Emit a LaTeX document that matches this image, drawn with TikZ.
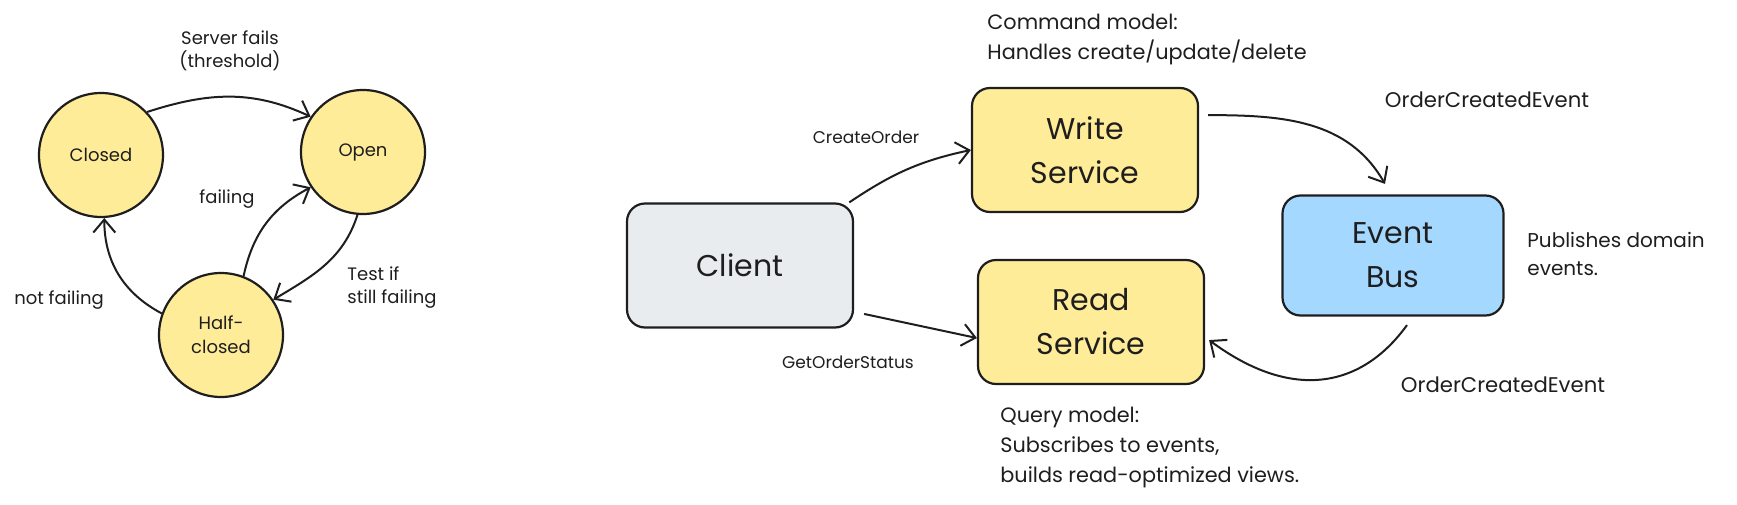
\documentclass[tikz,border=0pt]{standalone}
\usepackage{fontspec}
\setmainfont{Poppins}
\usetikzlibrary{arrows.meta, calc}
\definecolor{inkc}{HTML}{1E1E1E}
\definecolor{sunny}{HTML}{FFEC99}
\definecolor{mist}{HTML}{E9ECEF}
\definecolor{sky}{HTML}{A5D8FF}

\begin{document}
\begin{tikzpicture}[x=0.5pt, y=-0.5pt,
        phase/.style={circle, draw=inkc, fill=sunny, line width=1.1pt, minimum size=62pt, inner sep=0pt, align=center, text=inkc, font=\fontsize{9}{12}\selectfont},
        svc/.style={rounded corners=9pt, draw=inkc, line width=1.1pt, minimum width=113pt, minimum height=62pt, align=center, text=inkc, font=\fontsize{15}{22}\selectfont},
        lbl/.style={inner sep=0pt, align=left, text=inkc, font=\fontsize{9}{11.5}\selectfont},
        note/.style={inner sep=0pt, align=left, anchor=west, text=inkc, font=\fontsize{10.4}{15}\selectfont},
        flow/.style={draw=inkc, line width=1pt, -{Straight Barb[length=6.5pt, width=11pt]}}]
            \useasboundingbox (0,0) rectangle (1737,504);

            \foreach \name/\x/\y/\txt in {closed/101/155/Closed, open/363/152/Open, half/221/335/{Half-\\closed}} {
                \node[phase] (\name) at (\x,\y) {\txt};
            }

            \node[svc, fill=mist] (client) at (740,265.5) {Client};
            \node[svc, fill=sunny] (write) at (1085,150) {Write\\Service};
            \node[svc, fill=sunny] (read) at (1091,322) {Read\\Service};
            \node[svc, fill=sky, minimum width=110.5pt, minimum height=60pt] (bus) at (1393,255.5) {Event\\Bus};

            \draw[flow] (closed.43) to[out=18, in=155] (open.146);
            \draw[flow] (half.69) to[out=78, in=208] (open.214);
            \draw[flow] (open.265) to[out=252, in=31] (half.34);
            \draw[flow] (half.160) to[out=152, in=270] (closed.273);

            \draw[flow] (client.30) to[out=34, in=192] (write.west);
            \draw[flow] ([xshift=5pt]client.-23) -- (read.188);
            \draw[flow] ([xshift=4.5pt]write.17) to[out=0, in=120] ([xshift=-4pt, yshift=5.25pt]bus.north);
            \draw[flow] ([xshift=7pt, yshift=-4.25pt]bus.south) .. controls (1360,390) and (1290,400) .. ([xshift=2pt]read.-9);

            \node[lbl, align=center] (failsLbl) at (230,51) {Server fails\\(threshold)};
            \node[lbl] (failingLbl) at (227,199) {failing};
            \node[lbl, anchor=west] (testLbl) at (347,288) {Test if\\still failing};
            \node[lbl] (notLbl) at (59,300) {not failing};

            \node[lbl, font=\fontsize{8.5}{10}\selectfont] (createLbl) at (866,137) {CreateOrder};
            \node[lbl, font=\fontsize{8.5}{10}\selectfont] (statusLbl) at (848,362) {GetOrderStatus};
            \node[lbl, font=\fontsize{10.6}{12}\selectfont] (eventTopLbl) at (1487,100) {OrderCreatedEvent};
            \node[lbl, font=\fontsize{10.6}{12}\selectfont] (eventLowLbl) at (1503,385) {OrderCreatedEvent};

            \node[note] (cmdNote) at (987,40) {Command model:\\Handles create/update/delete};
            \node[note, font=\fontsize{10}{14}\selectfont] (busNote) at (1527,254) {Publishes domain\\events.};
            \node[note] (queryNote) at (1000,448) {Query model:\\Subscribes to events,\\builds read-optimized views.};
        \end{tikzpicture}
\end{document}
